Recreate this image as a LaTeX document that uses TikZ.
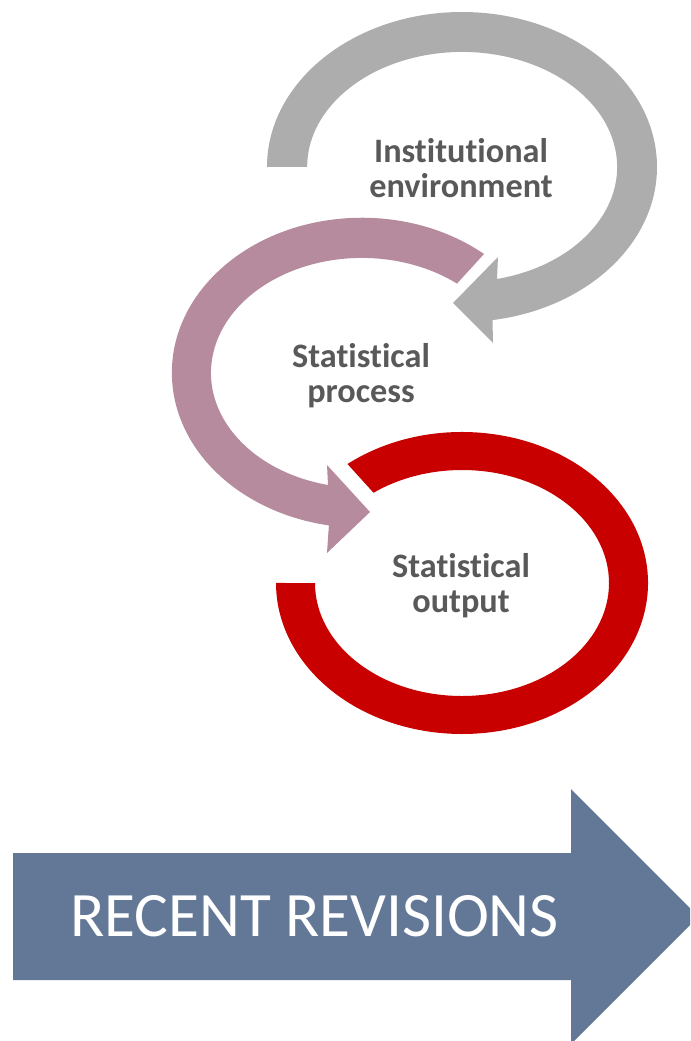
\documentclass[tikz,border=0pt]{standalone}
\usepackage{fontspec}
\setmainfont{Carlito}[Ligatures=NoCommon]
\definecolor{loopgray}{HTML}{ADADAD}
\definecolor{loopmauve}{HTML}{B58B9D}
\definecolor{loopred}{HTML}{C80000}
\definecolor{revblue}{HTML}{627896}
\definecolor{labelgray}{HTML}{595959}

\begin{document}
\begin{tikzpicture}[x=0.02cm,y=0.02cm,
    looplabel/.style={font=\bfseries\fontsize{19.5}{20}\selectfont,text=labelgray,align=center}]
        \useasboundingbox (0,0) rectangle (690,-1041);
        \clip (0,0) rectangle (690,-1041);
        % institutional environment
        \fill[loopgray] (267,-167) arc[start angle=180,end angle=-81,x radius=195,y radius=155]
            -- (493,-343) -- (453,-303) -- (498,-257) -- (497,-279)
            arc[start angle=-77,end angle=180,x radius=155,y radius=115] -- cycle;
        % statistical process
        \fill[loopmauve] (484,-254) arc[start angle=50,end angle=260,x radius=190,y radius=155]
            -- (327,-553) -- (370,-512) -- (327,-465) -- (328,-485)
            arc[start angle=257,end angle=51,x radius=151,y radius=115] -- cycle;
        % statistical output
        \fill[loopred] (347.5,-464) arc[start angle=128,end angle=-180,x radius=186,y radius=151]
            -- (315,-583) arc[start angle=-180,end angle=127,x radius=147,y radius=113] -- cycle;
        \node[looplabel] (inst) at (461,-168) {Institutional\\environment};
        \node[looplabel] (proc) at (361,-376) {Statistical\\process};
        \node[looplabel] (outp) at (461,-586) {Statistical\\output};
        % big arrow
        \fill[revblue] (13,-853) -- (571,-853) -- (571,-789) -- (698.5,-916.5)
            -- (571,-1044) -- (571,-980) -- (13,-980) -- cycle;
        \node[text=white,font=\fontsize{36}{40}\selectfont] (recent) at (314.5,-916.5) {RECENT REVISIONS};
    \end{tikzpicture}
\end{document}
